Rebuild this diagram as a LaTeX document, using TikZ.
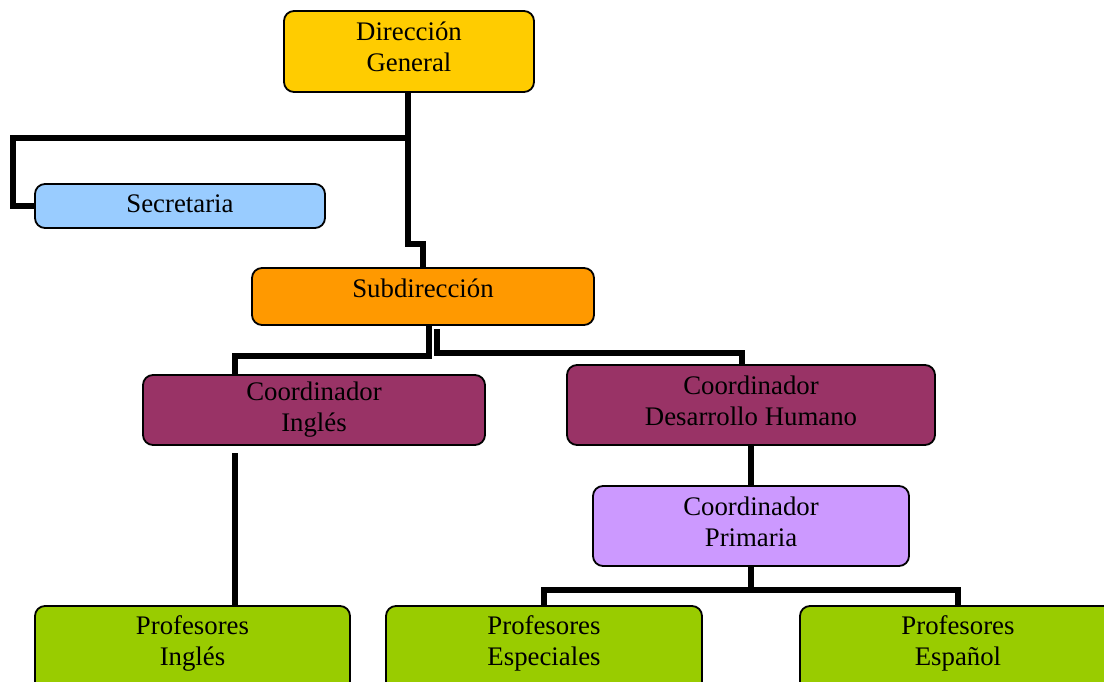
\documentclass[tikz,border=0pt]{standalone}
\usepackage{fontspec}
\setmainfont{Liberation Serif}
\begin{document}
\begin{tikzpicture}[x=1pt,y=-1pt,
  box/.style={draw=black,line width=1.8pt,rounded corners=10pt,inner sep=0pt},
  txt/.style={align=center,inner sep=0pt,font=\fontsize{26.8}{31}\selectfont},
  conn/.style={draw=black,line width=5.5pt,line join=miter}]
\definecolor{cgold}{HTML}{FFCC00}
\definecolor{csky}{HTML}{99CCFF}
\definecolor{corange}{HTML}{FF9900}
\definecolor{cplum}{HTML}{993366}
\definecolor{clilac}{HTML}{CC99FF}
\definecolor{clime}{HTML}{99CC00}
\useasboundingbox (0,0) rectangle (1104,681);

% boxes
\node[box,fill=cgold,minimum width=250pt,minimum height=81pt] (dgbox) at (409,51.5) {};
\node[box,fill=csky,minimum width=290pt,minimum height=44pt] (secbox) at (180,206) {};
\node[box,fill=corange,minimum width=342pt,minimum height=57pt] (subbox) at (423,296.5) {};
\node[box,fill=cplum,minimum width=342pt,minimum height=70pt] (cibox) at (314,410) {};
\node[box,fill=cplum,minimum width=368pt,minimum height=80pt] (dhbox) at (751,405) {};
\node[box,fill=clilac,minimum width=316pt,minimum height=80pt] (primbox) at (751,526) {};
\node[box,fill=clime,minimum width=315pt,minimum height=86pt] (pibox) at (192.5,649) {};
\node[box,fill=clime,minimum width=316pt,minimum height=86pt] (pebox) at (544,649) {};
\node[box,fill=clime,minimum width=316pt,minimum height=86pt] (psbox) at (958,649) {};

% labels
\node[txt] (dg) at (409,47) {Dirección\\General};
\node[txt] (sec) at (180,204) {Secretaria};
\node[txt] (sub) at (423,288) {Subdirección};
\node[txt] (ci) at (314,410) {Coordinador\\Inglés};
\node[txt] (dh) at (751,401) {Coordinador\\Desarrollo Humano};
\node[txt] (prim) at (751,522) {Coordinador\\Primaria};
\node[txt] (pi) at (192.5,643.5) {Profesores\\Inglés};
\node[txt] (pe) at (544,643.5) {Profesores\\Especiales};
\node[txt] (ps) at (958,643.5) {Profesores\\Español};

% junction points
\coordinate (j1) at (408,138);
\coordinate (s1) at (13,138);
\coordinate (s2) at (13,206);
\coordinate (d1) at (408,244);
\coordinate (d2) at (423,244);
\coordinate (a0) at (429,325);
\coordinate (a1) at (429,356);
\coordinate (a2) at (235,356);
\coordinate (a3) at (235,375);
\coordinate (b0) at (437,329);
\coordinate (b1) at (437,353);
\coordinate (b2) at (742,353);
\coordinate (b3) at (742,365);
\coordinate (c0) at (235,453);
\coordinate (c1) at (235,606);
\coordinate (p1) at (751,590);
\coordinate (p2) at (544,590);
\coordinate (p3) at (958,590);

% connectors
\draw[conn] (dgbox.south -| j1) -- (j1) -- (s1) -- (s2) -- (secbox.west);
\draw[conn] (j1) -- (d1) -- (d2) -- (subbox.north);
\draw[conn] (a0) -- (a1) -- (a2) -- (a3);
\draw[conn] (b0) -- (b1) -- (b2) -- (b3);
\draw[conn] (c0) -- (c1);
\draw[conn] (dhbox.south) -- (primbox.north);
\draw[conn] (primbox.south) -- (p1);
\draw[conn] (p2 |- pebox.north) -- (p2) -- (p3) -- (p3 |- psbox.north);
\end{tikzpicture}
\end{document}
